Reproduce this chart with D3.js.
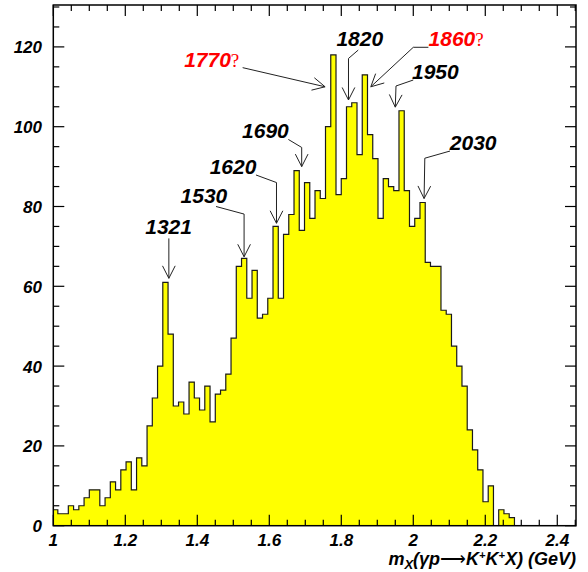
<!DOCTYPE html>
<html>
<head>
<meta charset="utf-8">
<script src="https://cdn.jsdelivr.net/npm/d3@7"></script>
<style>
  body { margin: 0; background: #fff; }
  text { font-family: "Liberation Sans", Arial, sans-serif; font-weight: bold; font-style: italic; }
</style>
</head>
<body>
<svg id="chart" width="588" height="572"></svg>
<script>
// histogram counts per bin (m_X, GeV)
var counts = [4,3,3,5,4,5,7,9,9,5,7,11,9,14,16,9,17,15,25,32,40,61,
    48,
    30,31,28,36,32,29,35,26,33,34,38,47,65,67,57,64,52,53,57,75,57,73,78,
    89,74,86,77,84,82,100,118,83,87,105,106,93,113,98,92,77,87,85,84,104,
    84,75,77,81,66,65,65,54,53,45,40,35,24,19,14,6,10,0,4,3,2];
var binStart = 0.998, binWidth = 0.01458;

var xTicks = [1, 1.2, 1.4, 1.6, 1.8, 2, 2.2, 2.4];
var yTicks = [0, 20, 40, 60, 80, 100, 120];

// peak callouts: label, tentative flag, label anchor and arrow path (GeV, counts)
var peakLabels = ["1321","1530","1620","1690","1770","1820","1860","1950","2030"];
var peakTentative = [false,false,false,false,true,false,true,false,false];
var labelAt = [[1.261,73.1],[1.359,81.0],[1.44,88.1],[1.53,97.1],[1.369,115.0],
               [1.792,120.1],[2.048,120.1],[2.002,111.9],[2.107,94.2]];
var arrowPts = [
    [[1.321,72.0],[1.321,62.0]],
    [[1.452,80.0],[1.53,78.1],[1.53,67.4]],
    [[1.563,87.9],[1.62,86.0],[1.62,75.8]],
    [[1.653,96.8],[1.69,94.8],[1.69,90.0]],
    [[1.526,114.8],[1.755,110.0]],
    [[1.847,119.2],[1.82,117.1],[1.82,106.7]],
    [[2.042,119.9],[2.0,119.9],[1.882,110.0]],
    [[2.0,111.7],[1.952,110.2],[1.95,104.9]],
    [[2.102,93.9],[2.032,92.1],[2.03,82.0]]
];

var svg = d3.select("#chart");
var L = 53.3, R = 576, T = 5, B = 525.7;

var x = d3.scaleLinear().domain([1, 2.452]).range([L, R]);
var y = d3.scaleLinear().domain([0, 130.5]).range([B, T]);

svg.append("clipPath").attr("id", "clip")
  .append("rect").attr("x", L).attr("y", T).attr("width", R - L).attr("height", B - T);

// step outline of the histogram
var pts = [[binStart, 0]];
counts.forEach(function(c, i) {
    pts.push([binStart + i * binWidth, c]);
    pts.push([binStart + (i + 1) * binWidth, c]);
});
pts.push([binStart + counts.length * binWidth, 0]);

var line = d3.line().x(function(d){ return x(d[0]); }).y(function(d){ return y(d[1]); });

svg.append("path")
    .attr("clip-path", "url(#clip)")
    .attr("d", line(pts))
    .attr("fill", "#ffff00")
    .attr("stroke", "#1a1a1a")
    .attr("stroke-width", 1.2);

// axes (ticks inside, mirrored on top/right)
function minor(a, b, s) { return d3.range(a, b + 1e-9, s); }

var gx = svg.append("g").attr("stroke", "#000").attr("stroke-width", 1.2);
minor(1, 2.45, 0.05).forEach(function(v) {
    var major = Math.abs(v * 5 - Math.round(v * 5)) < 1e-6;
    var len = major ? 11 : 6;
    gx.append("line").attr("x1", x(v)).attr("x2", x(v)).attr("y1", B).attr("y2", B - len);
    gx.append("line").attr("x1", x(v)).attr("x2", x(v)).attr("y1", T).attr("y2", T + len);
});
minor(0, 130, 5).forEach(function(v) {
    var len = v % 20 === 0 ? 11 : 6;
    gx.append("line").attr("x1", L).attr("x2", L + len).attr("y1", y(v)).attr("y2", y(v));
    gx.append("line").attr("x1", R).attr("x2", R - len).attr("y1", y(v)).attr("y2", y(v));
});

svg.append("rect")
    .attr("x", L).attr("y", T).attr("width", R - L).attr("height", B - T)
    .attr("fill", "none").attr("stroke", "#000").attr("stroke-width", 1.5);

svg.selectAll("text.xt").data(xTicks).enter().append("text")
    .attr("class", "xt")
    .attr("x", function(d){ return x(d); })
    .attr("y", 546)
    .attr("text-anchor", "middle")
    .attr("font-size", 17)
    .text(function(d){ return d3.format("")(d); });

svg.selectAll("text.yt").data(yTicks).enter().append("text")
    .attr("class", "yt")
    .attr("x", 42)
    .attr("y", function(d){ return y(d) + 6.5; })
    .attr("text-anchor", "end")
    .attr("font-size", 17)
    .text(function(d){ return d; });

// axis title
var title = svg.append("text").attr("x", 576).attr("y", 565)
    .attr("text-anchor", "end").attr("font-size", 18);
title.append("tspan").text("m");
title.append("tspan").attr("font-size", 13).attr("dy", 4).text("X");
title.append("tspan").attr("dy", -4).text("(\u03b3p");
title.append("tspan").style("font-style", "normal").style("font-weight", "normal").text("\u27f6");
title.append("tspan").text("K");
title.append("tspan").attr("font-size", 11).attr("dy", -6).text("+");
title.append("tspan").attr("dy", 6).text("K");
title.append("tspan").attr("font-size", 11).attr("dy", -6).text("+");
title.append("tspan").attr("dy", 6).text("X) (GeV)");

// callouts
var ann = svg.append("g");
peakLabels.forEach(function(lab, i) {
    var col = peakTentative[i] ? "#ff0000" : "#000";
    var t = ann.append("text")
        .attr("x", x(labelAt[i][0]) - 2)
        .attr("y", y(labelAt[i][1]))
        .attr("font-size", 21)
        .attr("fill", col)
        .text(lab);
    if (peakTentative[i]) {
        t.append("tspan")
            .style("font-family", "'Liberation Serif', serif")
            .style("font-weight", "normal")
            .style("font-style", "normal")
            .attr("font-size", 19)
            .text("?");
    }
    var p = arrowPts[i];
    ann.append("path")
        .attr("d", line(p))
        .attr("fill", "none").attr("stroke", "#222").attr("stroke-width", 1);
    var tip = [x(p[p.length-1][0]), y(p[p.length-1][1])];
    var prev = [x(p[p.length-2][0]), y(p[p.length-2][1])];
    var ang = Math.atan2(prev[1] - tip[1], prev[0] - tip[0]);
    [-0.47, 0.47].forEach(function(da) {
        ann.append("line")
            .attr("x1", tip[0]).attr("y1", tip[1])
            .attr("x2", tip[0] + 14 * Math.cos(ang + da))
            .attr("y2", tip[1] + 14 * Math.sin(ang + da))
            .attr("stroke", "#222").attr("stroke-width", 1);
    });
});
</script>
</body>
</html>
